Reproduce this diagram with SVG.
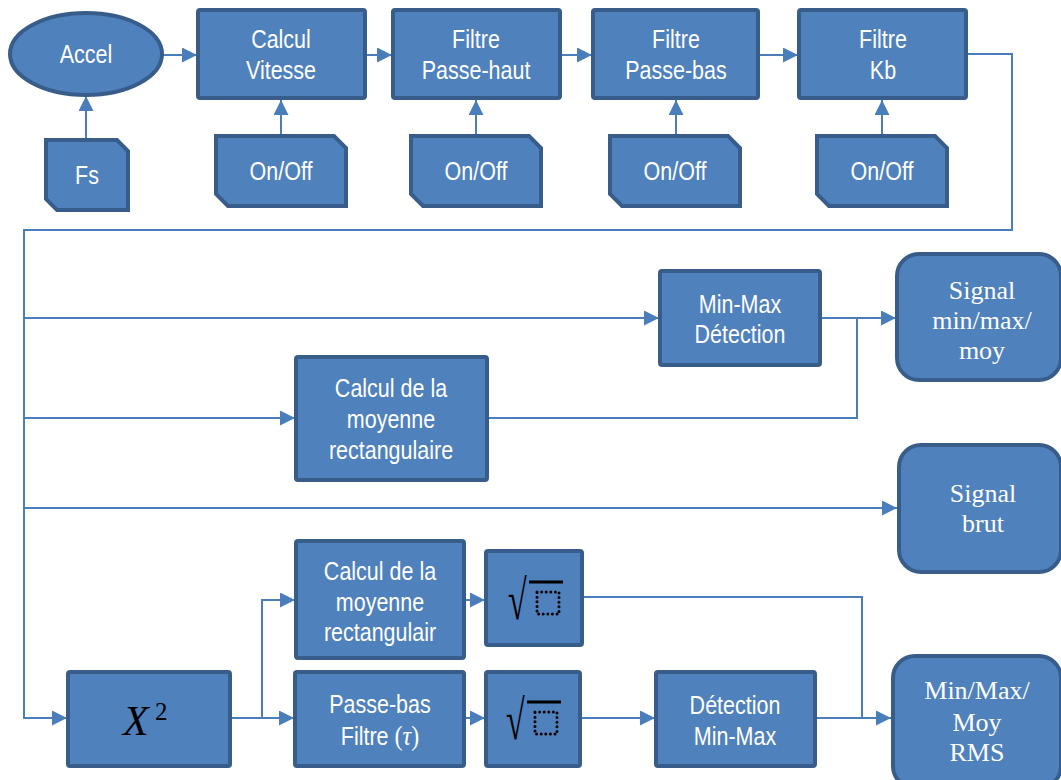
<svg xmlns="http://www.w3.org/2000/svg" width="1061" height="780" viewBox="0 0 1061 780">
<defs>
<style>
.box{fill:#4F81BD;stroke:#385D8A;stroke-width:4}
.ln{fill:none;stroke:#4A7EBB;stroke-width:2}
.t{fill:#fff;font-family:"Liberation Sans Narrow","Liberation Sans",Arial,sans-serif;font-size:25px;text-anchor:middle;transform-box:fill-box;transform-origin:center;transform:scaleX(0.86)}
.s{fill:#fff;font-family:"Liberation Serif","Times New Roman",serif;font-size:26px;text-anchor:middle}
.m{font-family:"Liberation Serif","Times New Roman",serif}
.dot{fill:none;stroke:#000;stroke-width:3;stroke-linecap:round;stroke-dasharray:0 4.6}
</style>
<marker id="a" markerUnits="userSpaceOnUse" markerWidth="15" markerHeight="15" refX="14" refY="7" orient="auto" viewBox="0 0 14 14">
<path d="M0,0 L14,7 L0,14 z" fill="#4A7EBB"/>
</marker>
</defs>
<g id="connectors">
<path class="ln" d="M86,140 V96" marker-end="url(#a)"/>
<path class="ln" d="M162,55 H197" marker-end="url(#a)"/>
<path class="ln" d="M281,136 V100" marker-end="url(#a)"/>
<path class="ln" d="M476,136 V100" marker-end="url(#a)"/>
<path class="ln" d="M676,136 V100" marker-end="url(#a)"/>
<path class="ln" d="M882,136 V100" marker-end="url(#a)"/>
<path class="ln" d="M365,55 H392" marker-end="url(#a)"/>
<path class="ln" d="M560,55 H592" marker-end="url(#a)"/>
<path class="ln" d="M758,55 H798" marker-end="url(#a)"/>
<path class="ln" d="M966,54 H1012 V230 H24 V718 H67" marker-end="url(#a)"/>
<path class="ln" d="M24,318 H659" marker-end="url(#a)"/>
<path class="ln" d="M24,418 H295" marker-end="url(#a)"/>
<path class="ln" d="M24,508 H897" marker-end="url(#a)"/>
<path class="ln" d="M820,318 H896" marker-end="url(#a)"/>
<path class="ln" d="M487,418 H857 V318"/>
<path class="ln" d="M230,718 H294" marker-end="url(#a)"/>
<path class="ln" d="M262,718 V600 H295" marker-end="url(#a)"/>
<path class="ln" d="M464,600 H485" marker-end="url(#a)"/>
<path class="ln" d="M464,718 H485" marker-end="url(#a)"/>
<path class="ln" d="M580,718 H655" marker-end="url(#a)"/>
<path class="ln" d="M815,718 H891" marker-end="url(#a)"/>
<path class="ln" d="M582,597 H862 V718"/>
</g>
<g id="accel"><ellipse class="box" cx="86" cy="54" rx="76" ry="41"/><text class="t" x="86" y="63">Accel</text></g>
<g id="fs"><path class="box" d="M46,140 H117 L128,151 V210 H57 L46,199 Z"/><text class="t" x="87" y="184">Fs</text></g>
<g id="calcul-vitesse"><rect class="box" x="198" y="10" width="167" height="88" rx="2"/><text class="t" x="281" y="48">Calcul</text><text class="t" x="281" y="79">Vitesse</text></g>
<g id="onoff1"><path class="box" d="M216,136 H334 L346,148 V206 H228 L216,194 Z"/><text class="t" x="281" y="180">On/Off</text></g>
<g id="passe-haut"><rect class="box" x="393" y="10" width="167" height="88" rx="2"/><text class="t" x="476" y="48">Filtre</text><text class="t" x="476" y="79">Passe-haut</text></g>
<g id="onoff2"><path class="box" d="M411,136 H529 L541,148 V206 H423 L411,194 Z"/><text class="t" x="476" y="180">On/Off</text></g>
<g id="passe-bas"><rect class="box" x="593" y="10" width="165" height="88" rx="2"/><text class="t" x="676" y="48">Filtre</text><text class="t" x="676" y="79">Passe-bas</text></g>
<g id="onoff3"><path class="box" d="M610,136 H728 L740,148 V206 H622 L610,194 Z"/><text class="t" x="675" y="180">On/Off</text></g>
<g id="kb"><rect class="box" x="799" y="10" width="167" height="88" rx="2"/><text class="t" x="883" y="48">Filtre</text><text class="t" x="883" y="79">Kb</text></g>
<g id="onoff4"><path class="box" d="M817,136 H935 L947,148 V206 H829 L817,194 Z"/><text class="t" x="882" y="180">On/Off</text></g>
<g id="minmax-detection"><rect class="box" x="660" y="271" width="160" height="94" rx="2"/><text class="t" x="740" y="313">Min-Max</text><text class="t" x="740" y="343">Détection</text></g>
<g id="signal-minmaxmoy"><rect class="box" x="897" y="254" width="164" height="126" rx="22"/><text class="s" x="982" y="299">Signal</text><text class="s" x="982" y="329">min/max/</text><text class="s" x="982" y="359">moy</text></g>
<g id="moyenne-rect"><rect class="box" x="296" y="357" width="191" height="123" rx="2"/><text class="t" x="391" y="397">Calcul de la</text><text class="t" x="391" y="428">moyenne</text><text class="t" x="391" y="459">rectangulaire</text></g>
<g id="signal-brut"><rect class="box" x="899" y="445" width="162" height="127" rx="22"/><text class="s" x="983" y="502">Signal</text><text class="s" x="983" y="532">brut</text></g>
<g id="x2"><rect class="box" x="68" y="672" width="162" height="94" rx="2"/><text x="123" y="735" fill="#000" class="m" font-size="42" font-style="italic">X</text><text x="155" y="720" fill="#000" class="m" font-size="25">2</text></g>
<g id="moyenne-rect2"><rect class="box" x="296" y="541" width="168" height="117" rx="2"/><text class="t" x="380" y="580">Calcul de la</text><text class="t" x="380" y="611">moyenne</text><text class="t" x="380" y="641">rectangulair</text></g>
<g id="sqrt1"><rect class="box" x="486" y="551" width="96" height="94" rx="2"/><text transform="translate(508,619) scale(0.85,1.4)" class="m" font-size="40" fill="#000">√</text><line x1="529" y1="582" x2="563" y2="582" stroke="#000" stroke-width="3"/><rect class="dot" x="537" y="592" width="22" height="22"/></g>
<g id="passe-bas-tau"><rect class="box" x="295" y="672" width="169" height="94" rx="2"/><text class="t" x="380" y="745">Filtre <tspan class="m" font-size="28">(</tspan><tspan class="m" font-size="28" font-style="italic">τ</tspan><tspan class="m" font-size="28">)</tspan></text><text class="t" x="380" y="713">Passe-bas</text></g>
<g id="sqrt2"><rect class="box" x="486" y="672" width="94" height="94" rx="2"/><text transform="translate(506,739) scale(0.85,1.4)" class="m" font-size="40" fill="#000">√</text><line x1="527" y1="702" x2="561" y2="702" stroke="#000" stroke-width="3"/><rect class="dot" x="535" y="712" width="22" height="22"/></g>
<g id="detection-minmax"><rect class="box" x="656" y="672" width="159" height="94" rx="2"/><text class="t" x="735" y="714">Détection</text><text class="t" x="735" y="745">Min-Max</text></g>
<g id="rms"><rect class="box" x="893" y="656" width="168" height="132" rx="22"/><text class="s" x="977" y="699">Min/Max/</text><text class="s" x="977" y="731">Moy</text><text class="s" x="977" y="761">RMS</text></g>
</svg>
